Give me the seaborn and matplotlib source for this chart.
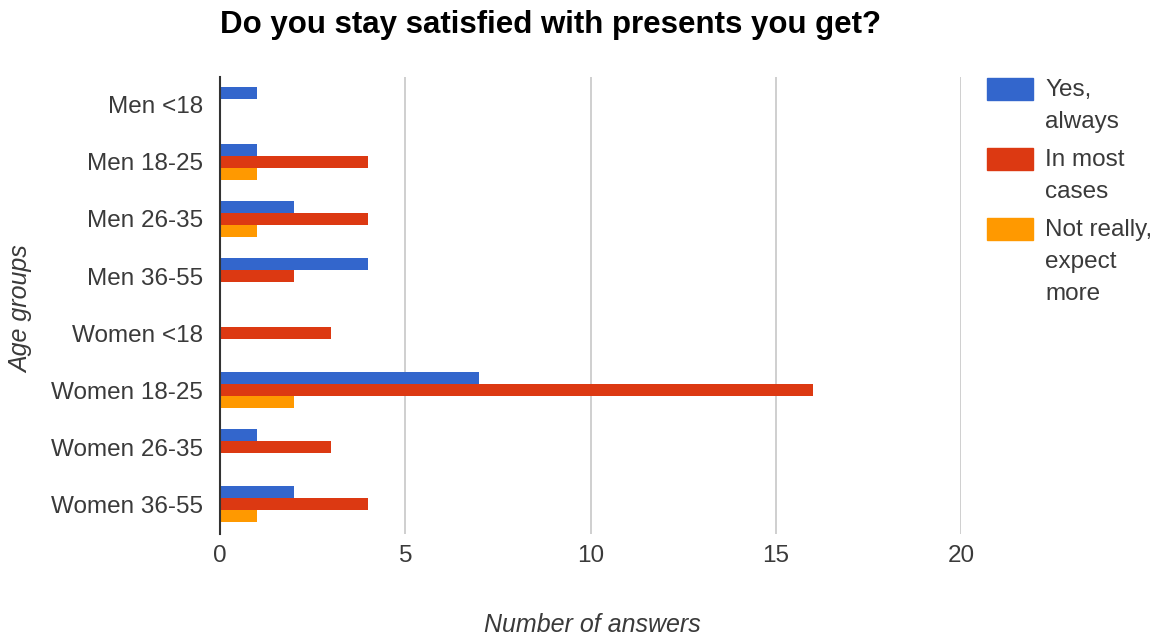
import matplotlib
matplotlib.use("Agg")
import matplotlib.pyplot as plt
import seaborn as sns
import pandas as pd
from matplotlib.patches import Rectangle

groups = ["Men <18", "Men 18-25", "Men 26-35", "Men 36-55",
          "Women <18", "Women 18-25", "Women 26-35", "Women 36-55"]
answers = ["Yes,\nalways", "In most\ncases", "Not really,\nexpect\nmore"]
yes_always = [1, 1, 2, 4, 0, 7, 1, 2]
in_most_cases = [0, 4, 4, 2, 3, 16, 3, 4]
not_really = [0, 1, 1, 0, 0, 2, 0, 1]
colors = ["#3366CC", "#DC3912", "#FF9900"]
x_ticks = [0, 5, 10, 15, 20]

rows = []
for ans, vals in zip(answers, [yes_always, in_most_cases, not_really]):
    for g, v in zip(groups, vals):
        rows.append({"group": g, "answer": ans, "count": v})
df = pd.DataFrame(rows)

sns.set_style("white")
plt.rcParams["font.family"] = ["Arial", "Liberation Sans", "DejaVu Sans"]

W, H = 1157, 639
fig = plt.figure(figsize=(W / 100, H / 100), dpi=100)
ax = fig.add_axes([220 / W, 1 - 534 / H, 741 / W, 457 / H])

sns.barplot(data=df, y="group", x="count", hue="answer", order=groups,
            hue_order=answers, palette=colors, orient="h", width=0.64,
            linewidth=0, saturation=1, legend=False, ax=ax)

fs = 17.5
txt = "#3a3a3a"
ax.set_xlim(0, 20)
ax.set_ylim(7.526, -0.491)
ax.set_xticks(x_ticks)
ax.set_xticklabels([str(t) for t in x_ticks], fontsize=fs, color=txt)
ax.tick_params(axis="y", labelsize=fs, labelcolor=txt, length=0, pad=12)
ax.tick_params(axis="x", length=0, pad=8)
for t in x_ticks[1:]:
    ax.axvline(t, color="#CCCCCC", lw=1.3, zorder=0)
for s in ["top", "right", "bottom"]:
    ax.spines[s].set_visible(False)
ax.spines["left"].set_color("#333333")
ax.spines["left"].set_linewidth(1.5)

ax.set_ylabel("Age groups", fontsize=18, style="italic", color=txt)
ax.set_xlabel("Number of answers", fontsize=18, style="italic", color=txt)
ax.yaxis.set_label_coords((33 - 220) / 741, (534 - 309) / 457)
ax.xaxis.set_label_coords((592 - 220) / 741, (534 - 613) / 457)

fig.text(220 / W, 1 - 25 / H, "Do you stay satisfied with presents you get?",
         fontsize=22.5, fontweight="bold", color="black", ha="left", va="center")

# Legend on the right, wrapped labels with swatches aligned to the first line
line_h = 32
y = 89
for ans, c in zip(answers, colors):
    lines = ans.split("\n")
    fig.patches.append(Rectangle((987 / W, 1 - (y + 11) / H), 46 / W, 22 / H,
                                 transform=fig.transFigure, color=c))
    for i, line in enumerate(lines):
        fig.text(1045 / W, 1 - (y + 1 + i * line_h) / H, line, fontsize=fs,
                 color=txt, ha="left", va="center")
    y += line_h * len(lines) + 6

fig.savefig("out.png", dpi=100)
